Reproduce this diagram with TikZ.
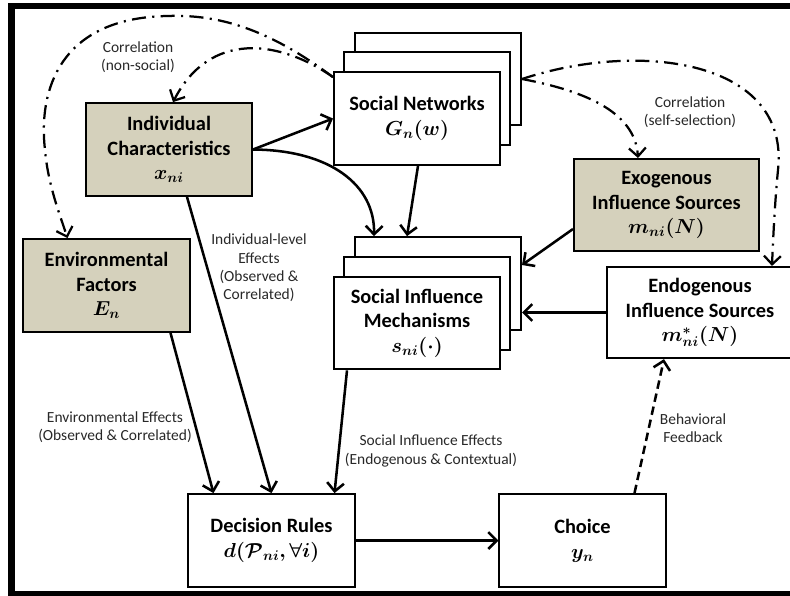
\documentclass[tikz,border=0pt]{standalone}
\usepackage{fontspec}
\usepackage{bm}
\setmainfont{Carlito}
\usetikzlibrary{calc,arrows.meta}

\definecolor{boxtan}{RGB}{213,209,188}
\definecolor{notegray}{RGB}{40,40,40}
\newcommand{\diagtitle}{\fontsize{14.5}{17.5}\selectfont\bfseries}
\newcommand{\diagnote}{\fontsize{11}{13}\selectfont}

\tikzset{
  box/.style={draw,line width=1.4pt,fill=white,align=center,inner sep=2pt,
    minimum width=4.15cm,minimum height=2.32cm,font=\diagtitle},
  tanbox/.style={box,fill=boxtan},
  note/.style={align=center,font=\diagnote,text=notegray},
  flow/.style={->,line width=1.8pt},
  corr/.style={->,line width=1.6pt,dash pattern=on 10pt off 4.5pt on 1.5pt off 4.5pt},
  feedback/.style={->,line width=1.8pt,dash pattern=on 6pt off 3.5pt},
  >={Straight Barb[length=6pt,width=12pt]}
}

\begin{document}
\begin{tikzpicture}[x=0.025cm,y=-0.025cm]
\useasboundingbox (0,0) rectangle (790,595);
% outer frame
\draw[line width=4.5pt] (11.5,6) rectangle (805,594);

% social networks (stacked)
\node[box] (sn3) at (438,79) {};
\node[box] (sn2) at (427,98.5) {};
\node[box] (sn1) at (417,118.5) {Social Networks\\$\bm{G_n(w)}$};

% social influence mechanisms (stacked)
\node[box] (sim3) at (438,283.5) {};
\node[box] (sim2) at (427,303.5) {};
\node[box] (sim1) at (417,323) {Social Influence\\Mechanisms\\$\bm{s_{ni}(\cdot)}$};

\node[tanbox] (ic) at (169,149.5) {Individual\\Characteristics\\$\bm{x_{ni}}$};
\node[tanbox] (ef) at (106.5,285.5) {Environmental\\Factors\\$\bm{E_n}$};
\node[tanbox,minimum width=4.625cm,minimum height=2.3cm] (exo) at (666.5,205)
  {Exogenous\\Influence Sources\\$\bm{m_{ni}(N)}$};
\node[box,minimum width=4.65cm,minimum height=2.28cm] (endo) at (700,312.5)
  {Endogenous\\Influence Sources\\$\bm{m^{*}_{ni}(N)}$};
\node[box] (dr) at (271.5,540.5) {Decision Rules\\$\bm{d(\mathcal{P}_{ni},\forall i)}$};
\node[box] (choice) at (582.5,540.5) {Choice\\$\bm{y_n}$};

% labels
\node[note] (corrns) at (138,57) {Correlation\\(non-social)};
\node[note] (corrss) at (690,112) {Correlation\\(self-selection)};
\node[note] (indeff) at (259,268) {Individual-level\\Effects\\(Observed \&\\Correlated)};
\node[note] (enveff) at (115,427) {Environmental Effects\\(Observed \& Correlated)};
\node[note] (soceff) at (431,451) {Social Influence Effects\\(Endogenous \& Contextual)};
\node[note] (behfb) at (693,428) {Behavioral\\Feedback};

% solid effects
\draw[flow] (ic.east) -- (sn1.west);
\draw[flow] (ic.east) .. controls (330,150) and (375,185) .. ($(sim3.north west)+(20,0)$);
\draw[flow] ($(sn1.south)+(1,0)$) -- ($(sim3.north)+(-31,0)$);
\draw[flow] ($(ic.south)+(18,0)$) -- (dr.north);
\draw[flow] ($(ef.south east)+(-20,0)$) -- ($(dr.north west)+(26,0)$);
\draw[flow] ($(sim1.south west)+(14,0)$) -- ($(dr.north east)+(-21,0)$);
\draw[flow] ($(exo.west)+(0,24)$) -- ($(sim3.east)+(0,-18.5)$);
\draw[flow] (endo.west) -- (endo.west -| sim3.east);
\draw[flow] (dr.east) -- (choice.west);
\draw[feedback] ($(choice.north east)+(-32,0)$) -- ($(endo.south west)+(58,0)$);

% correlations
\draw[corr] ($(sn1.north west)+(0,6)$) .. controls (270,30) and (220,14) .. (167,16)
  .. controls (60,18) and (38,90) .. (45,150)
  .. controls (48,185) and (60,215) .. ($(ef.north west)+(45,0)$);
\draw[corr] ($(sn1.north west)+(0,6)$) .. controls (280,40) and (210,30) .. ($(ic.north)+(4,0)$);
\draw[corr] (sn3.east) .. controls (580,90) and (635,110) .. ($(exo.north)+(-28.5,0)$);
\draw[corr] (sn3.east) .. controls (640,40) and (790,60) .. (778,170)
  .. controls (775,200) and (773,240) .. ($(endo.north west)+(166,0)$);
\end{tikzpicture}
\end{document}
